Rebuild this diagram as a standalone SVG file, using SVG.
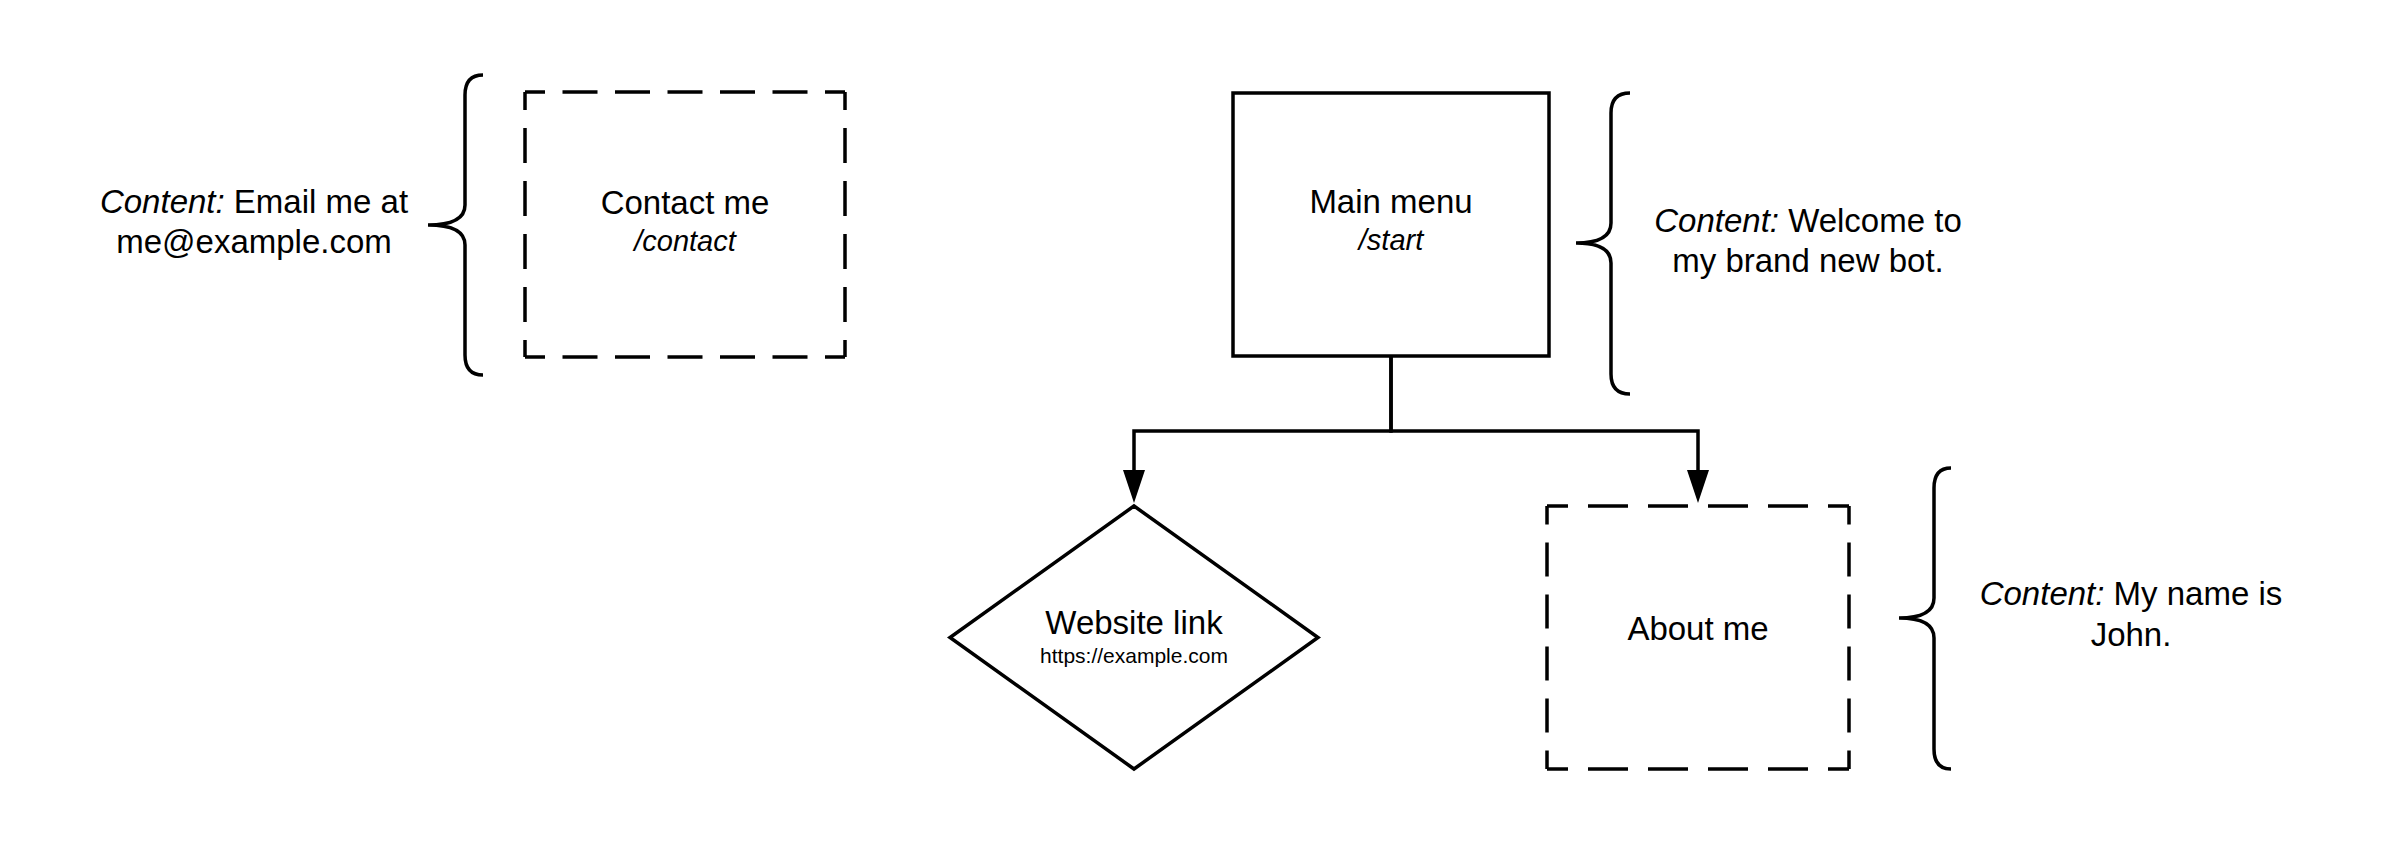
<svg xmlns="http://www.w3.org/2000/svg" width="2385" height="844" viewBox="0 0 2385 844">
<style>
  .ln { fill: none; stroke: #000; stroke-width: 3.5; }
  .t { font-family: "Liberation Sans", Arial, sans-serif; fill: #000; text-anchor: middle; }
  .big { font-size: 33px; }
  .sub { font-size: 29px; font-style: italic; }
  .small { font-size: 21px; }
  .it { font-style: italic; }
</style>
<defs>
  <marker id="arrow" markerUnits="userSpaceOnUse" markerWidth="33" markerHeight="22" viewBox="0 0 33 22" refX="0" refY="11" orient="auto">
    <path d="M0,0 L33,11 L0,22 Z" fill="#000"/>
  </marker>
</defs>
<rect width="2385" height="844" fill="#fff"/>

<g id="connectors">
  <path class="ln" d="M1391,356 L1391,431 L1134,431 L1134,470" marker-end="url(#arrow)"/>
  <path class="ln" d="M1391,356 L1391,431 L1698,431 L1698,470" marker-end="url(#arrow)"/>
</g>

<g id="contact-note">
  <path class="ln" d="M483,75 Q465,75 465,95 L465,205 Q465,225 428,225 Q465,225 465,245 L465,355 Q465,375 483,375"/>
  <text class="t big" x="254" y="213"><tspan class="it">Content:</tspan> Email me at</text>
  <text class="t big" x="254" y="253">me@example.com</text>
</g>

<g id="contact-me">
  <g class="ln">
    <line x1="525" y1="92" x2="845" y2="92" stroke-dasharray="35 17.5" stroke-dashoffset="15"/>
    <line x1="525" y1="357" x2="845" y2="357" stroke-dasharray="35 17.5" stroke-dashoffset="15"/>
    <line x1="525" y1="92" x2="525" y2="357" stroke-dasharray="35 18" stroke-dashoffset="17"/>
    <line x1="845" y1="92" x2="845" y2="357" stroke-dasharray="35 18" stroke-dashoffset="17"/>
  </g>
  <text class="t big" x="685" y="214">Contact me</text>
  <text class="t sub" x="685" y="251">/contact</text>
</g>

<g id="main-menu">
  <rect class="ln" x="1233" y="93" width="316" height="263"/>
  <text class="t big" x="1391" y="213">Main menu</text>
  <text class="t sub" x="1391" y="250">/start</text>
</g>

<g id="main-note">
  <path class="ln" d="M1630,93 Q1611,93 1611,113 L1611,223 Q1611,243 1576,243 Q1611,243 1611,263 L1611,374 Q1611,394 1630,394"/>
  <text class="t big" x="1808" y="232"><tspan class="it">Content:</tspan> Welcome to</text>
  <text class="t big" x="1808" y="272">my brand new bot.</text>
</g>

<g id="website-link">
  <polygon class="ln" points="1134,506 1318,637.5 1134,769 950,637.5"/>
  <text class="t big" x="1134" y="634">Website link</text>
  <text class="t small" x="1134" y="663">https://example.com</text>
</g>

<g id="about-me">
  <g class="ln">
    <line x1="1547" y1="506" x2="1849" y2="506" stroke-dasharray="40 20" stroke-dashoffset="19"/>
    <line x1="1547" y1="769" x2="1849" y2="769" stroke-dasharray="40 20" stroke-dashoffset="19"/>
    <line x1="1547" y1="506" x2="1547" y2="769" stroke-dasharray="34 18" stroke-dashoffset="15.5"/>
    <line x1="1849" y1="506" x2="1849" y2="769" stroke-dasharray="34 18" stroke-dashoffset="15.5"/>
  </g>
  <text class="t big" x="1698" y="640">About me</text>
</g>

<g id="about-note">
  <path class="ln" d="M1951,468 Q1934,468 1934,488 L1934,598 Q1934,618 1899,618 Q1934,618 1934,638 L1934,749 Q1934,769 1951,769"/>
  <text class="t big" x="2131" y="605"><tspan class="it">Content:</tspan> My name is</text>
  <text class="t big" x="2131" y="646">John.</text>
</g>
</svg>
